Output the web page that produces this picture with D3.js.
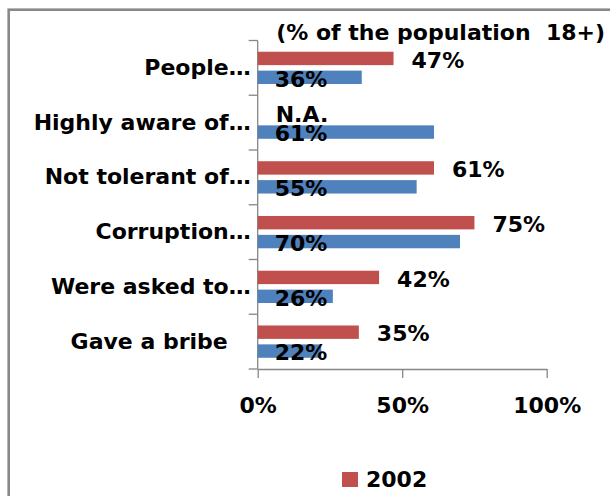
<!DOCTYPE html>
<html>
<head>
<meta charset="utf-8">
<script src="https://cdn.jsdelivr.net/npm/d3@7"></script>
<style>
  body { margin: 0; background: #fff; }
  text { font-family: "DejaVu Sans", sans-serif; font-weight: bold; font-size: 22px; fill: #000; }
</style>
</head>
<body>
<script>
// data
var categories = ["People\u2026", "Highly aware of\u2026", "Not tolerant of\u2026", "Corruption\u2026", "Were asked to\u2026", "Gave a bribe\u00a0\u00a0\u00a0"];
var series = ["2002", "other"];
var values2002 = [47, null, 61, 75, 42, 35];
var valuesOther = [36, 61, 55, 70, 26, 22];
var xTicks = [0, 50, 100];
var legendItems = ["2002"];

var colors = {"2002": "#C0504D", "other": "#4F81BD"};
var axisGrey = "#868686";

var svg = d3.select("body").append("svg")
    .attr("width", 610)
    .attr("height", 496);

// outer frame (cut off by the picture on the right and bottom)
svg.append("rect")
    .attr("x", 8.7).attr("y", 9.7)
    .attr("width", 700).attr("height", 600)
    .attr("fill", "none")
    .attr("stroke", "#888")
    .attr("stroke-width", 2.6);

var x = d3.scaleLinear().domain([0, 100]).range([257.7, 546.7]);

var y0 = d3.scaleBand().domain(categories)
    .range([40.5, 369])
    .paddingInner(0.41)
    .paddingOuter(0.205);

var y1 = d3.scaleBand().domain(series)
    .range([0, y0.bandwidth()])
    .paddingInner(0.29);

// build rows
var rows = categories.map(function(c, i) {
  return {cat: c, vals: [
    {s: "2002", v: values2002[i]},
    {s: "other", v: valuesOther[i]}
  ]};
});

// bottom axis
var gx = svg.append("g")
    .attr("transform", "translate(0," + y0.range()[1] + ")")
    .call(d3.axisBottom(x).tickValues(xTicks)
        .tickFormat(function(d) { return d + "%"; })
        .tickSize(9).tickSizeOuter(0).tickPadding(19));
gx.select(".domain").attr("stroke", axisGrey).attr("stroke-width", 1.3);
gx.selectAll(".tick line").attr("stroke", axisGrey).attr("stroke-width", 1.3);

// left axis: line + ticks at category boundaries
var yStart = y0.range()[0], yEnd = y0.range()[1];
svg.append("line")
    .attr("x1", x(0)).attr("x2", x(0))
    .attr("y1", yStart).attr("y2", yEnd)
    .attr("stroke", axisGrey).attr("stroke-width", 1.3);
svg.selectAll(".cattick")
    .data(d3.range(categories.length + 1))
    .enter().append("line")
    .attr("class", "cattick")
    .attr("x1", x(0) - 9).attr("x2", x(0))
    .attr("y1", function(i) { return yStart + i * y0.step(); })
    .attr("y2", function(i) { return yStart + i * y0.step(); })
    .attr("stroke", axisGrey).attr("stroke-width", 1.3);

var gy = svg.append("g")
    .attr("transform", "translate(" + x(0) + ",0)")
    .call(d3.axisLeft(y0).tickSize(0).tickPadding(7));
gy.select(".domain").remove();
gy.selectAll("text").style("white-space", "pre");
// centre labels on the whole band, not just the bar group
gy.selectAll(".tick").attr("transform", function(d) {
  return "translate(0," + (y0(d) + y0.bandwidth() / 2) + ")";
});

// bars
var groups = svg.selectAll(".row")
    .data(rows)
    .enter().append("g")
    .attr("class", "row")
    .attr("transform", function(d) { return "translate(0," + y0(d.cat) + ")"; });

groups.selectAll("rect")
    .data(function(d) { return d.vals.filter(function(e) { return e.v != null; }); })
    .enter().append("rect")
    .attr("x", x(0))
    .attr("y", function(d) { return y1(d.s); })
    .attr("width", function(d) { return x(d.v) - x(0); })
    .attr("height", y1.bandwidth())
    .attr("fill", function(d) { return colors[d.s]; });

// value labels: 2002 outside the end, other inside the base
groups.selectAll(".val")
    .data(function(d) { return d.vals; })
    .enter().append("text")
    .attr("class", "val")
    .attr("x", function(d) {
      return d.s === "2002" ? x(d.v == null ? 0 : d.v) + 18 : x(0) + 17;
    })
    .attr("y", function(d) { return y1(d.s) + y1.bandwidth() + 2.5; })
    .text(function(d) { return d.v == null ? "N.A." : d.v + "%"; });

// subtitle
svg.append("text")
    .attr("x", 605).attr("y", 40)
    .attr("text-anchor", "end")
    .style("white-space", "pre")
    .text("(% of the population  18+)");

// legend
var lg = svg.selectAll(".legend")
    .data(legendItems)
    .enter().append("g")
    .attr("class", "legend")
    .attr("transform", function(d, i) { return "translate(342," + (472 + i * 30) + ")"; });
lg.append("rect")
    .attr("width", 16).attr("height", 15)
    .attr("fill", function(d) { return colors[d]; });
lg.append("text")
    .attr("x", 24).attr("y", 15)
    .text(function(d) { return d; });
</script>
</body>
</html>
